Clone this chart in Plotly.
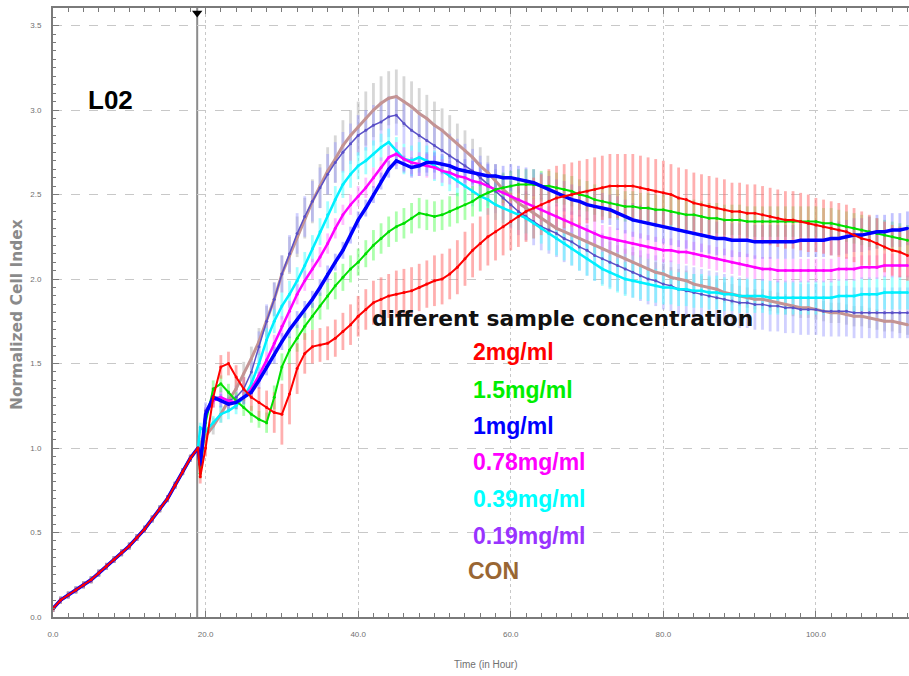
import plotly.graph_objects as go

# ---------------- data ----------------
# common growth phase before sample addition (all wells normalised to 1.0 at ~19 h)
t_base = [0, 1, 2, 3, 4, 5, 6, 7, 8, 9, 10, 11, 12, 13, 14, 15, 16, 17, 18, 19]
ci_base = [0.05, 0.10, 0.13, 0.16, 0.19, 0.22, 0.26, 0.30, 0.34, 0.38,
           0.42, 0.47, 0.52, 0.58, 0.64, 0.70, 0.78, 0.86, 0.94, 1.00]
err_base = [0.02, 0.02, 0.02, 0.02, 0.02, 0.02, 0.02, 0.02, 0.02, 0.02,
            0.02, 0.02, 0.02, 0.02, 0.02, 0.02, 0.02, 0.02, 0.02, 0.00]

# time points after addition of the sample (hours)
t_post = [19.3] + list(range(20, 113))

ci_2 = [0.83,
        1.00, 1.30, 1.48, 1.50, 1.42, 1.35, 1.30, 1.27, 1.24, 1.21,
        1.20, 1.32, 1.47, 1.56, 1.60, 1.61, 1.62, 1.65, 1.69, 1.73,
        1.78, 1.82, 1.86, 1.88, 1.90, 1.91, 1.92, 1.93, 1.95, 1.97,
        1.99, 2.00, 2.03, 2.07, 2.12, 2.17, 2.21, 2.25, 2.28, 2.31,
        2.34, 2.37, 2.40, 2.42, 2.44, 2.46, 2.48, 2.49, 2.50, 2.51,
        2.52, 2.53, 2.54, 2.55, 2.55, 2.55, 2.55, 2.54, 2.53, 2.52,
        2.51, 2.50, 2.48, 2.47, 2.45, 2.44, 2.43, 2.42, 2.41, 2.40,
        2.40, 2.39, 2.39, 2.38, 2.37, 2.36, 2.35, 2.35, 2.34, 2.33,
        2.32, 2.31, 2.30, 2.29, 2.28, 2.26, 2.24, 2.23, 2.21, 2.19,
        2.17, 2.16, 2.14]
err_2 = [0.04,
         0.05, 0.06, 0.07, 0.07, 0.07, 0.07, 0.08, 0.09, 0.10, 0.12,
         0.18, 0.18, 0.15, 0.12, 0.10, 0.10, 0.10, 0.11, 0.11, 0.12,
         0.12, 0.12, 0.13, 0.13, 0.13, 0.14, 0.14, 0.14, 0.14, 0.14,
         0.15, 0.15, 0.15, 0.16, 0.16, 0.16, 0.16, 0.17, 0.17, 0.17,
         0.17, 0.18, 0.18, 0.18, 0.18, 0.19, 0.19, 0.19, 0.19, 0.19,
         0.19, 0.19, 0.19, 0.19, 0.19, 0.19, 0.19, 0.19, 0.19, 0.19,
         0.19, 0.18, 0.18, 0.18, 0.18, 0.18, 0.18, 0.18, 0.18, 0.17,
         0.17, 0.17, 0.17, 0.17, 0.17, 0.17, 0.17, 0.17, 0.17, 0.17,
         0.16, 0.16, 0.16, 0.16, 0.16, 0.16, 0.16, 0.15, 0.15, 0.15,
         0.15, 0.15, 0.15]

ci_15 = [0.85,
         1.15, 1.35, 1.38, 1.33, 1.28, 1.24, 1.20, 1.17, 1.15, 1.30,
         1.48, 1.58, 1.65, 1.72, 1.78, 1.84, 1.90, 1.96, 2.01, 2.06,
         2.10, 2.15, 2.20, 2.24, 2.28, 2.31, 2.33, 2.36, 2.39, 2.38,
         2.37, 2.38, 2.40, 2.42, 2.44, 2.46, 2.49, 2.51, 2.53, 2.54,
         2.55, 2.56, 2.56, 2.56, 2.55, 2.55, 2.54, 2.53, 2.52, 2.50,
         2.49, 2.47, 2.46, 2.45, 2.44, 2.43, 2.43, 2.42, 2.42, 2.41,
         2.41, 2.40, 2.39, 2.38, 2.38, 2.37, 2.36, 2.36, 2.35, 2.35,
         2.35, 2.34, 2.34, 2.34, 2.34, 2.34, 2.34, 2.34, 2.34, 2.34,
         2.34, 2.33, 2.33, 2.32, 2.31, 2.30, 2.29, 2.28, 2.27, 2.26,
         2.25, 2.24, 2.23]
err_15 = [0.03,
          0.04, 0.05, 0.05, 0.05, 0.05, 0.05, 0.05, 0.05, 0.06, 0.07,
          0.08, 0.08, 0.08, 0.08, 0.08, 0.08, 0.08, 0.08, 0.08, 0.08,
          0.08, 0.08, 0.09, 0.09, 0.09, 0.09, 0.09, 0.09, 0.09, 0.09,
          0.09, 0.09, 0.09, 0.09, 0.09, 0.09, 0.09, 0.09, 0.09, 0.09,
          0.09, 0.09, 0.09, 0.09, 0.09, 0.09, 0.09, 0.09, 0.09, 0.09,
          0.09, 0.09, 0.09, 0.09, 0.09, 0.09, 0.09, 0.09, 0.09, 0.09,
          0.09, 0.09, 0.09, 0.09, 0.09, 0.09, 0.09, 0.09, 0.09, 0.09,
          0.09, 0.09, 0.09, 0.09, 0.09, 0.09, 0.09, 0.09, 0.09, 0.09,
          0.09, 0.09, 0.09, 0.09, 0.09, 0.09, 0.09, 0.09, 0.09, 0.09,
          0.09, 0.09, 0.09]

ci_1 = [0.90,
        1.20, 1.30, 1.28, 1.26, 1.27, 1.30, 1.33, 1.40, 1.48, 1.55,
        1.63, 1.70, 1.76, 1.82, 1.88, 1.95, 2.03, 2.10, 2.17, 2.26,
        2.35, 2.42, 2.50, 2.58, 2.65, 2.70, 2.68, 2.66, 2.67, 2.69,
        2.69, 2.68, 2.67, 2.65, 2.64, 2.63, 2.62, 2.61, 2.61, 2.60,
        2.60, 2.59, 2.58, 2.57, 2.55, 2.53, 2.51, 2.49, 2.47, 2.46,
        2.44, 2.43, 2.42, 2.41, 2.39, 2.37, 2.35, 2.34, 2.33, 2.32,
        2.31, 2.30, 2.29, 2.28, 2.27, 2.26, 2.25, 2.24, 2.24, 2.23,
        2.23, 2.23, 2.22, 2.22, 2.22, 2.22, 2.22, 2.22, 2.23, 2.23,
        2.23, 2.23, 2.24, 2.24, 2.25, 2.26, 2.26, 2.27, 2.28, 2.28,
        2.29, 2.29, 2.30]
err_1 = [0.03,
         0.04, 0.04, 0.04, 0.04, 0.04, 0.04, 0.04, 0.05, 0.05, 0.05,
         0.05, 0.05, 0.05, 0.05, 0.05, 0.05, 0.05, 0.05, 0.05, 0.05,
         0.05, 0.05, 0.05, 0.05, 0.05, 0.05, 0.05, 0.06, 0.06, 0.06,
         0.06, 0.06, 0.06, 0.06, 0.07, 0.07, 0.07, 0.07, 0.07, 0.07,
         0.08, 0.08, 0.08, 0.08, 0.08, 0.08, 0.08, 0.09, 0.09, 0.09,
         0.09, 0.09, 0.09, 0.09, 0.10, 0.10, 0.10, 0.10, 0.10, 0.10,
         0.10, 0.10, 0.10, 0.10, 0.10, 0.10, 0.10, 0.10, 0.10, 0.10,
         0.10, 0.10, 0.10, 0.10, 0.10, 0.10, 0.10, 0.10, 0.10, 0.10,
         0.10, 0.10, 0.10, 0.10, 0.10, 0.10, 0.10, 0.10, 0.10, 0.10,
         0.10, 0.10, 0.10]

ci_078 = [0.90,
          1.20, 1.28, 1.30, 1.28, 1.27, 1.30, 1.35, 1.43, 1.52, 1.62,
          1.72, 1.81, 1.91, 1.99, 2.06, 2.13, 2.21, 2.30, 2.38, 2.44,
          2.49, 2.54, 2.60, 2.66, 2.72, 2.74, 2.71, 2.69, 2.68, 2.67,
          2.66, 2.64, 2.63, 2.61, 2.60, 2.58, 2.57, 2.55, 2.53, 2.51,
          2.49, 2.47, 2.45, 2.43, 2.41, 2.39, 2.37, 2.35, 2.33, 2.31,
          2.29, 2.27, 2.25, 2.24, 2.23, 2.22, 2.21, 2.20, 2.19, 2.18,
          2.17, 2.17, 2.16, 2.16, 2.15, 2.14, 2.13, 2.12, 2.11, 2.10,
          2.09, 2.08, 2.07, 2.06, 2.06, 2.05, 2.05, 2.05, 2.05, 2.05,
          2.05, 2.05, 2.05, 2.06, 2.06, 2.06, 2.07, 2.07, 2.07, 2.08,
          2.08, 2.08, 2.08]
err_078 = [0.03,
           0.04, 0.04, 0.04, 0.04, 0.04, 0.04, 0.05, 0.05, 0.05, 0.05,
           0.06, 0.06, 0.06, 0.06, 0.06, 0.06, 0.06, 0.06, 0.06, 0.06,
           0.06, 0.06, 0.06, 0.06, 0.07, 0.07, 0.07, 0.07, 0.07, 0.07,
           0.07, 0.07, 0.07, 0.07, 0.07, 0.07, 0.07, 0.07, 0.07, 0.07,
           0.07, 0.07, 0.07, 0.07, 0.07, 0.07, 0.07, 0.07, 0.07, 0.07,
           0.07, 0.07, 0.07, 0.07, 0.07, 0.07, 0.07, 0.07, 0.07, 0.07,
           0.07, 0.07, 0.07, 0.07, 0.07, 0.07, 0.07, 0.07, 0.07, 0.07,
           0.07, 0.07, 0.07, 0.07, 0.07, 0.07, 0.07, 0.07, 0.07, 0.07,
           0.07, 0.07, 0.07, 0.07, 0.07, 0.07, 0.07, 0.07, 0.07, 0.07,
           0.07, 0.07, 0.07]

ci_039 = [1.12,
          1.10, 1.15, 1.20, 1.22, 1.25, 1.30, 1.38, 1.50, 1.64, 1.75,
          1.84, 1.91, 1.99, 2.08, 2.18, 2.28, 2.38, 2.47, 2.56, 2.62,
          2.67, 2.70, 2.74, 2.78, 2.81, 2.76, 2.71, 2.70, 2.72, 2.70,
          2.67, 2.64, 2.61, 2.58, 2.55, 2.52, 2.49, 2.47, 2.44, 2.42,
          2.40, 2.38, 2.36, 2.33, 2.30, 2.27, 2.24, 2.21, 2.18, 2.15,
          2.12, 2.09, 2.06, 2.04, 2.02, 2.00, 1.99, 1.98, 1.97, 1.96,
          1.95, 1.95, 1.94, 1.94, 1.93, 1.93, 1.92, 1.92, 1.91, 1.91,
          1.90, 1.90, 1.90, 1.90, 1.89, 1.89, 1.89, 1.89, 1.89, 1.89,
          1.89, 1.89, 1.89, 1.90, 1.90, 1.90, 1.91, 1.91, 1.91, 1.92,
          1.92, 1.92, 1.92]
err_039 = [0.03,
           0.04, 0.04, 0.05, 0.05, 0.05, 0.05, 0.06, 0.06, 0.07, 0.07,
           0.08, 0.08, 0.08, 0.08, 0.08, 0.08, 0.08, 0.08, 0.08, 0.08,
           0.08, 0.08, 0.08, 0.08, 0.08, 0.08, 0.09, 0.09, 0.09, 0.09,
           0.09, 0.09, 0.09, 0.09, 0.09, 0.09, 0.09, 0.09, 0.09, 0.09,
           0.09, 0.09, 0.09, 0.09, 0.09, 0.10, 0.10, 0.10, 0.10, 0.10,
           0.10, 0.10, 0.10, 0.10, 0.10, 0.10, 0.10, 0.10, 0.10, 0.10,
           0.10, 0.10, 0.10, 0.10, 0.10, 0.10, 0.10, 0.10, 0.10, 0.10,
           0.10, 0.10, 0.10, 0.10, 0.10, 0.10, 0.10, 0.10, 0.10, 0.10,
           0.10, 0.10, 0.10, 0.10, 0.10, 0.10, 0.10, 0.10, 0.10, 0.10,
           0.10, 0.10, 0.10]

ci_019 = [0.95,
          1.22, 1.30, 1.30, 1.28, 1.30, 1.35, 1.45, 1.60, 1.75, 1.88,
          2.03, 2.15, 2.27, 2.37, 2.46, 2.54, 2.62, 2.69, 2.75, 2.80,
          2.85, 2.88, 2.91, 2.93, 2.96, 2.97, 2.92, 2.88, 2.85, 2.82,
          2.79, 2.76, 2.73, 2.70, 2.67, 2.64, 2.60, 2.56, 2.52, 2.48,
          2.44, 2.40, 2.37, 2.34, 2.31, 2.29, 2.27, 2.24, 2.22, 2.19,
          2.17, 2.14, 2.12, 2.10, 2.08, 2.06, 2.04, 2.02, 2.00, 1.99,
          1.97, 1.96, 1.94, 1.93, 1.92, 1.91, 1.90, 1.89, 1.88, 1.87,
          1.86, 1.86, 1.85, 1.85, 1.84, 1.84, 1.83, 1.83, 1.82, 1.82,
          1.82, 1.81, 1.81, 1.81, 1.81, 1.80, 1.80, 1.80, 1.80, 1.80,
          1.80, 1.80, 1.80]
err_019 = [0.04,
           0.05, 0.06, 0.06, 0.06, 0.07, 0.07, 0.08, 0.09, 0.10, 0.10,
           0.11, 0.11, 0.12, 0.12, 0.12, 0.12, 0.12, 0.12, 0.12, 0.12,
           0.12, 0.12, 0.12, 0.12, 0.12, 0.12, 0.12, 0.12, 0.12, 0.12,
           0.13, 0.13, 0.13, 0.13, 0.13, 0.13, 0.13, 0.13, 0.13, 0.13,
           0.14, 0.14, 0.14, 0.14, 0.14, 0.14, 0.14, 0.14, 0.14, 0.14,
           0.15, 0.15, 0.15, 0.15, 0.15, 0.15, 0.15, 0.15, 0.15, 0.15,
           0.15, 0.15, 0.15, 0.15, 0.15, 0.15, 0.15, 0.15, 0.15, 0.15,
           0.15, 0.15, 0.15, 0.15, 0.15, 0.15, 0.15, 0.15, 0.15, 0.15,
           0.15, 0.15, 0.15, 0.15, 0.15, 0.15, 0.15, 0.15, 0.15, 0.15,
           0.15, 0.15, 0.15]

ci_con = [1.03,
          1.07, 1.13, 1.20, 1.28, 1.35, 1.44, 1.53, 1.63, 1.75, 1.88,
          2.03, 2.14, 2.25, 2.36, 2.46, 2.55, 2.64, 2.71, 2.79, 2.85,
          2.90, 2.95, 3.00, 3.04, 3.07, 3.08, 3.05, 3.02, 2.98, 2.95,
          2.91, 2.88, 2.84, 2.80, 2.76, 2.72, 2.67, 2.63, 2.58, 2.53,
          2.49, 2.45, 2.42, 2.39, 2.36, 2.33, 2.30, 2.28, 2.26, 2.24,
          2.22, 2.20, 2.18, 2.16, 2.14, 2.12, 2.10, 2.08, 2.06, 2.04,
          2.03, 2.01, 2.00, 1.99, 1.97, 1.96, 1.95, 1.94, 1.92, 1.91,
          1.90, 1.89, 1.88, 1.88, 1.87, 1.86, 1.85, 1.84, 1.83, 1.83,
          1.82, 1.81, 1.80, 1.80, 1.79, 1.78, 1.78, 1.77, 1.76, 1.75,
          1.75, 1.74, 1.73]
err_con = [0.03,
           0.04, 0.05, 0.05, 0.06, 0.06, 0.07, 0.07, 0.08, 0.09, 0.10,
           0.11, 0.11, 0.12, 0.12, 0.13, 0.13, 0.14, 0.14, 0.15, 0.15,
           0.15, 0.16, 0.16, 0.16, 0.16, 0.16, 0.15, 0.15, 0.15, 0.14,
           0.14, 0.13, 0.13, 0.12, 0.12, 0.11, 0.11, 0.10, 0.10, 0.09,
           0.09, 0.08, 0.08, 0.08, 0.07, 0.07, 0.07, 0.07, 0.06, 0.06,
           0.06, 0.06, 0.06, 0.06, 0.06, 0.06, 0.06, 0.06, 0.06, 0.06,
           0.06, 0.06, 0.06, 0.06, 0.06, 0.06, 0.06, 0.06, 0.06, 0.06,
           0.06, 0.06, 0.06, 0.06, 0.06, 0.06, 0.06, 0.06, 0.06, 0.06,
           0.06, 0.06, 0.06, 0.06, 0.06, 0.06, 0.06, 0.06, 0.06, 0.06,
           0.06, 0.06, 0.06]

series_labels = ["2mg/ml", "1.5mg/ml", "1mg/ml", "0.78mg/ml", "0.39mg/ml", "0.19mg/ml", "CON"]
series_values = [ci_2, ci_15, ci_1, ci_078, ci_039, ci_019, ci_con]
series_errors = [err_2, err_15, err_1, err_078, err_039, err_019, err_con]

treatment_time = 18.9
x_ticks = [0, 20, 40, 60, 80, 100]
y_ticks = [0.0, 0.5, 1.0, 1.5, 2.0, 2.5, 3.0, 3.5]

# ---------------- styles ----------------
line_colors = ["#ff0000", "#00e000", "#0000ff", "#ff00ff", "#00f0ff", "#5a50c8", "#c49494"]
bar_colors = ["rgba(255,110,110,0.55)", "rgba(90,255,90,0.5)", "rgba(120,120,255,0.45)",
              "rgba(255,110,255,0.45)", "rgba(90,255,255,0.55)", "rgba(150,150,255,0.45)",
              "rgba(175,175,175,0.5)"]
line_widths = [2, 2, 3.5, 2.5, 2.5, 1.5, 3]
text_colors = ["#ff0000", "#00ee00", "#0000ff", "#ff00ff", "#00ffff", "#9933ff", "#996633"]
draw_order = [6, 5, 4, 3, 1, 2, 0]

fig = go.Figure()

# error bars first, so lines lie on top
for i in draw_order:
    fig.add_trace(go.Scatter(
        x=t_base + t_post, y=ci_base + series_values[i],
        mode="lines", line=dict(width=0, color=line_colors[i]),
        error_y=dict(type="data", array=err_base + series_errors[i],
                     color=bar_colors[i], thickness=2.8, width=0),
        showlegend=False, hoverinfo="skip"))

for i in draw_order:
    fig.add_trace(go.Scatter(
        x=t_base + t_post, y=ci_base + series_values[i],
        mode="lines+markers", name=series_labels[i],
        line=dict(width=line_widths[i], color=line_colors[i]),
        marker=dict(size=3, color=line_colors[i]),
        showlegend=False))

# marker of sample addition time
fig.add_trace(go.Scatter(x=[treatment_time], y=[3.575], mode="markers",
                         marker=dict(symbol="triangle-down", size=9, color="black"),
                         cliponaxis=False, showlegend=False, hoverinfo="skip"))

fig.add_shape(type="line", xref="x", yref="paper", x0=treatment_time, x1=treatment_time,
              y0=0, y1=1, line=dict(color="#8c8c8c", width=2), layer="below")

# ---------------- layout ----------------
W, H = 909, 676
ML, MR, MT, MB = 53, 0, 8, 59
PW, PH = W - ML - MR, H - MT - MB


def px(xp):
    return (xp - ML) / PW


def py(yp):
    return (H - MB - yp) / PH


tick_font = dict(family="Liberation Sans Narrow, Arial Narrow, Arial", size=8, color="#707070")

fig.update_layout(
    width=W, height=H, margin=dict(l=ML, r=MR, t=MT, b=MB),
    paper_bgcolor="white", plot_bgcolor="white", showlegend=False,
    xaxis=dict(range=[0, 112.2], tickvals=x_ticks, ticktext=["%.1f" % v for v in x_ticks],
               showgrid=True, gridcolor="#c8c8c8", griddash="dot", gridwidth=1,
               zeroline=False, showline=True, linecolor="#7a7a7a", linewidth=2, mirror="ticks",
               ticks="inside", ticklen=6, tickcolor="#7a7a7a",
               minor=dict(dtick=2, ticks="inside", ticklen=4, tickcolor="#7a7a7a", showgrid=False),
               tickfont=tick_font, ticklabelstandoff=8),
    yaxis=dict(range=[0, 3.604], tickvals=y_ticks, ticktext=["%.1f" % v for v in y_ticks],
               showgrid=True, gridcolor="#c8c8c8", griddash="dash", gridwidth=1,
               zeroline=False, showline=True, linecolor="#7a7a7a", linewidth=2,
               ticks="inside", ticklen=6, tickcolor="#7a7a7a",
               minor=dict(dtick=0.05, ticks="inside", ticklen=3, tickcolor="#7a7a7a", showgrid=False),
               tickfont=tick_font, ticklabelstandoff=8),
)

annotations = [
    dict(text="<b>L02</b>", x=px(86), y=py(100), xanchor="left", yanchor="middle",
         font=dict(family="Liberation Sans Narrow, Arial Narrow, Arial", size=26, color="black")),
    dict(text="<b>different sample concentration</b>", x=px(370), y=py(318),
         xanchor="left", yanchor="middle",
         font=dict(family="DejaVu Sans", size=21.8, color="#111111")),
    dict(text="<b>Normalized Cell Index</b>", x=px(17), y=py(315), textangle=-90,
         xanchor="center", yanchor="middle",
         font=dict(family="DejaVu Sans", size=15.5, color="#8a8a8a")),
    dict(text="Time (in Hour)", x=px(486), y=py(664), xanchor="center", yanchor="middle",
         font=dict(family="Liberation Sans Narrow, Arial Narrow, Arial", size=10, color="#707070")),
]
label_y = [352, 390, 426, 462, 499, 536, 571]
label_x = [471, 471, 471, 471, 471, 471, 466]
for i, lab in enumerate(series_labels):
    annotations.append(dict(text="<b>%s</b>" % lab, x=px(label_x[i]), y=py(label_y[i]),
                            xanchor="left", yanchor="middle",
                            font=dict(family="Arial, Liberation Sans", size=23, color=text_colors[i])))
for a in annotations:
    a.update(xref="paper", yref="paper", showarrow=False)
fig.update_layout(annotations=annotations)

fig.write_html("out.html")
